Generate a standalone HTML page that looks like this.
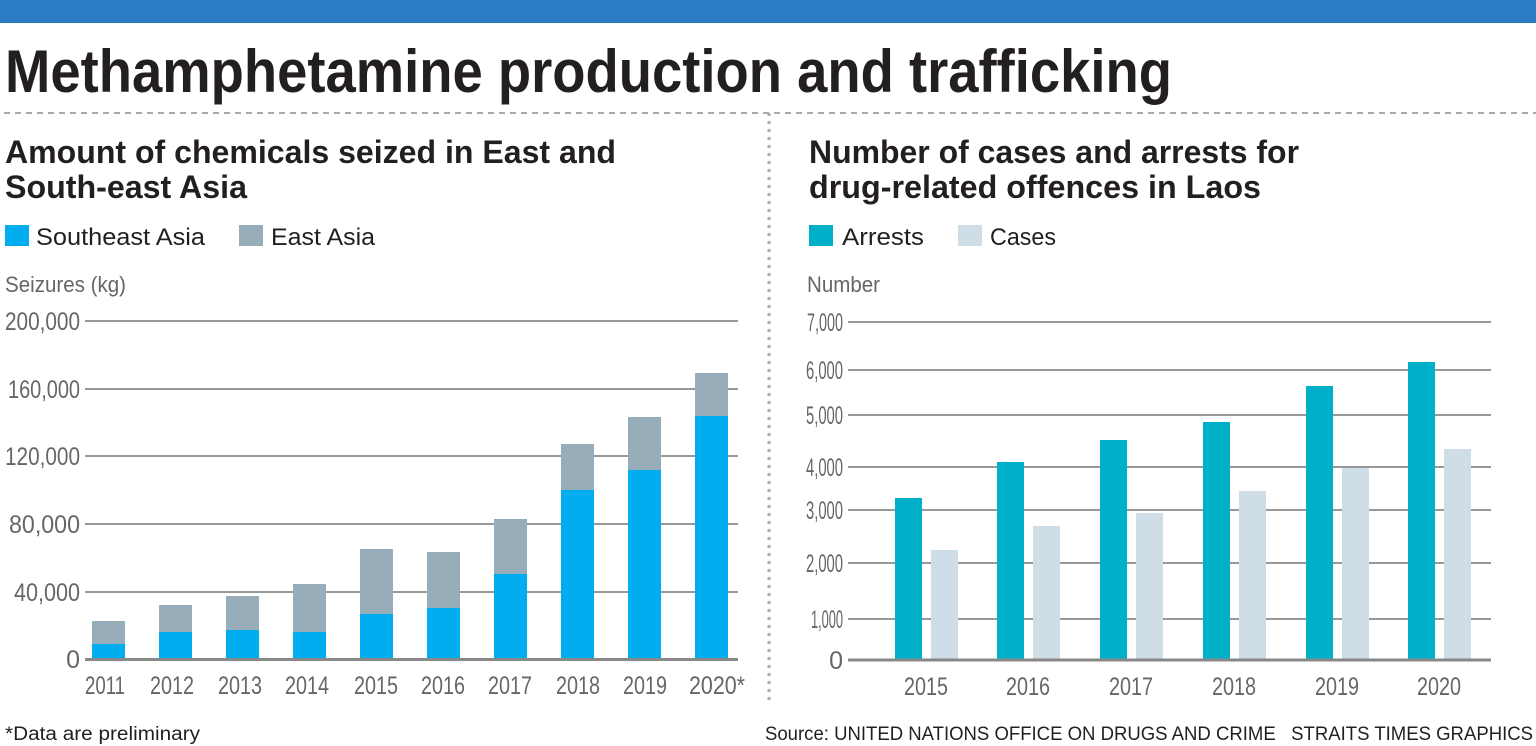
<!DOCTYPE html>
<html><head><meta charset="utf-8"><style>
html,body{margin:0;padding:0;background:#fff;}
svg{display:block;font-family:"Liberation Sans",sans-serif;}
</style></head><body>
<svg width="1536" height="746" viewBox="0 0 1536 746" xmlns="http://www.w3.org/2000/svg">
<rect x="0" y="0" width="1536" height="23" fill="#2a7dc4"/>
<text x="5" y="92" font-size="60" font-weight="bold" fill="#231f20" textLength="1167" lengthAdjust="spacingAndGlyphs">Methamphetamine production and trafficking</text>
<line x1="4" y1="113" x2="1536" y2="113" stroke="#aaa" stroke-width="2" stroke-dasharray="6,5"/>
<line x1="769" y1="113" x2="769" y2="700" stroke="#aaa" stroke-width="3" stroke-dasharray="3,5"/>

<g font-weight="bold" fill="#231f20" font-size="32">
<text x="5" y="163" textLength="611" lengthAdjust="spacingAndGlyphs">Amount of chemicals seized in East and</text>
<text x="5" y="198" textLength="242" lengthAdjust="spacingAndGlyphs">South-east Asia</text>
<text x="809" y="163" textLength="490" lengthAdjust="spacingAndGlyphs">Number of cases and arrests for</text>
<text x="809" y="198" textLength="452" lengthAdjust="spacingAndGlyphs">drug-related offences in Laos</text>
</g>
<g font-size="24" fill="#231f20">
<rect x="5" y="225" width="24" height="21" fill="#00aeef"/>
<text x="36" y="245" textLength="169" lengthAdjust="spacingAndGlyphs">Southeast Asia</text>
<rect x="239" y="225" width="24" height="21" fill="#97aeba"/>
<text x="271" y="245" textLength="104" lengthAdjust="spacingAndGlyphs">East Asia</text>
<rect x="809" y="225" width="24" height="21" fill="#00b0c8"/>
<text x="842" y="245" textLength="82" lengthAdjust="spacingAndGlyphs">Arrests</text>
<rect x="958" y="225" width="24" height="21" fill="#cfdee6"/>
<text x="990" y="245" textLength="66" lengthAdjust="spacingAndGlyphs">Cases</text>
</g>
<g font-size="22" fill="#666">
<text x="5" y="292" textLength="121" lengthAdjust="spacingAndGlyphs">Seizures (kg)</text>
<text x="807" y="292" textLength="73" lengthAdjust="spacingAndGlyphs">Number</text>
</g>

<g stroke="#999" stroke-width="2">
<line x1="85" y1="321" x2="738" y2="321"/>
<line x1="85" y1="389" x2="738" y2="389"/>
<line x1="85" y1="456" x2="738" y2="456"/>
<line x1="85" y1="524" x2="738" y2="524"/>
<line x1="85" y1="592" x2="738" y2="592"/>
</g>
<g font-size="25" fill="#666" text-anchor="end">
<text x="80" y="330" textLength="75" lengthAdjust="spacingAndGlyphs">200,000</text>
<text x="80" y="398" textLength="72" lengthAdjust="spacingAndGlyphs">160,000</text>
<text x="80" y="465" textLength="75" lengthAdjust="spacingAndGlyphs">120,000</text>
<text x="80" y="533" textLength="71" lengthAdjust="spacingAndGlyphs">80,000</text>
<text x="80" y="601" textLength="66" lengthAdjust="spacingAndGlyphs">40,000</text>
<text x="80" y="668">0</text>
</g>
<g>
<rect x="92" y="621" width="33" height="39" fill="#97aeba"/><rect x="92" y="644" width="33" height="16" fill="#00aeef"/>
<rect x="159" y="605" width="33" height="55" fill="#97aeba"/><rect x="159" y="632" width="33" height="28" fill="#00aeef"/>
<rect x="226" y="596" width="33" height="64" fill="#97aeba"/><rect x="226" y="630" width="33" height="30" fill="#00aeef"/>
<rect x="293" y="584" width="33" height="76" fill="#97aeba"/><rect x="293" y="632" width="33" height="28" fill="#00aeef"/>
<rect x="360" y="549" width="33" height="111" fill="#97aeba"/><rect x="360" y="614" width="33" height="46" fill="#00aeef"/>
<rect x="427" y="552" width="33" height="108" fill="#97aeba"/><rect x="427" y="608" width="33" height="52" fill="#00aeef"/>
<rect x="494" y="519" width="33" height="141" fill="#97aeba"/><rect x="494" y="574" width="33" height="86" fill="#00aeef"/>
<rect x="561" y="444" width="33" height="216" fill="#97aeba"/><rect x="561" y="490" width="33" height="170" fill="#00aeef"/>
<rect x="628" y="417" width="33" height="243" fill="#97aeba"/><rect x="628" y="470" width="33" height="190" fill="#00aeef"/>
<rect x="695" y="373" width="33" height="287" fill="#97aeba"/><rect x="695" y="416" width="33" height="244" fill="#00aeef"/>
</g>
<line x1="85" y1="659.5" x2="738" y2="659.5" stroke="#888" stroke-width="3"/>
<g font-size="25" fill="#666" text-anchor="middle">
<text x="105" y="694" textLength="40" lengthAdjust="spacingAndGlyphs">2011</text><text x="172" y="694" textLength="44" lengthAdjust="spacingAndGlyphs">2012</text><text x="240" y="694" textLength="44" lengthAdjust="spacingAndGlyphs">2013</text>
<text x="307" y="694" textLength="44" lengthAdjust="spacingAndGlyphs">2014</text><text x="376" y="694" textLength="44" lengthAdjust="spacingAndGlyphs">2015</text><text x="443" y="694" textLength="44" lengthAdjust="spacingAndGlyphs">2016</text>
<text x="510" y="694" textLength="44" lengthAdjust="spacingAndGlyphs">2017</text><text x="578" y="694" textLength="44" lengthAdjust="spacingAndGlyphs">2018</text><text x="645" y="694" textLength="44" lengthAdjust="spacingAndGlyphs">2019</text>
<text x="717" y="694" textLength="56" lengthAdjust="spacingAndGlyphs">2020*</text>
</g>

<g stroke="#999" stroke-width="2">
<line x1="848" y1="322" x2="1491" y2="322"/>
<line x1="848" y1="370" x2="1491" y2="370"/>
<line x1="848" y1="415" x2="1491" y2="415"/>
<line x1="848" y1="467" x2="1491" y2="467"/>
<line x1="848" y1="510" x2="1491" y2="510"/>
<line x1="848" y1="563" x2="1491" y2="563"/>
<line x1="848" y1="619" x2="1491" y2="619"/>
</g>
<g font-size="25" fill="#666" text-anchor="end">
<text x="843" y="331" textLength="36" lengthAdjust="spacingAndGlyphs">7,000</text><text x="843" y="379" textLength="37" lengthAdjust="spacingAndGlyphs">6,000</text><text x="843" y="424" textLength="37" lengthAdjust="spacingAndGlyphs">5,000</text>
<text x="843" y="476" textLength="37" lengthAdjust="spacingAndGlyphs">4,000</text><text x="843" y="519" textLength="37" lengthAdjust="spacingAndGlyphs">3,000</text><text x="843" y="572" textLength="37" lengthAdjust="spacingAndGlyphs">2,000</text>
<text x="843" y="628" textLength="32" lengthAdjust="spacingAndGlyphs">1,000</text><text x="843" y="669">0</text>
</g>
<g fill="#00b0c8">
<rect x="895" y="498" width="27" height="162"/><rect x="997" y="462" width="27" height="198"/>
<rect x="1100" y="440" width="27" height="220"/><rect x="1203" y="422" width="27" height="238"/>
<rect x="1306" y="386" width="27" height="274"/><rect x="1408" y="362" width="27" height="298"/>
</g>
<g fill="#cfdee6">
<rect x="931" y="550" width="27" height="110"/><rect x="1033" y="526" width="27" height="134"/>
<rect x="1136" y="513" width="27" height="147"/><rect x="1239" y="491" width="27" height="169"/>
<rect x="1342" y="468" width="27" height="192"/><rect x="1444" y="449" width="27" height="211"/>
</g>
<line x1="848" y1="660" x2="1491" y2="660" stroke="#888" stroke-width="3"/>
<g font-size="25" fill="#666" text-anchor="middle">
<text x="926" y="695" textLength="44" lengthAdjust="spacingAndGlyphs">2015</text><text x="1028" y="695" textLength="44" lengthAdjust="spacingAndGlyphs">2016</text><text x="1131" y="695" textLength="44" lengthAdjust="spacingAndGlyphs">2017</text>
<text x="1234" y="695" textLength="44" lengthAdjust="spacingAndGlyphs">2018</text><text x="1337" y="695" textLength="44" lengthAdjust="spacingAndGlyphs">2019</text><text x="1439" y="695" textLength="44" lengthAdjust="spacingAndGlyphs">2020</text>
</g>

<g font-size="19" fill="#231f20">
<text x="5" y="740" textLength="195" lengthAdjust="spacingAndGlyphs">*Data are preliminary</text>
<text x="765" y="740" textLength="768" lengthAdjust="spacingAndGlyphs" xml:space="preserve">Source: UNITED NATIONS OFFICE ON DRUGS AND CRIME   STRAITS TIMES GRAPHICS</text>
</g>
</svg>
</body></html>
